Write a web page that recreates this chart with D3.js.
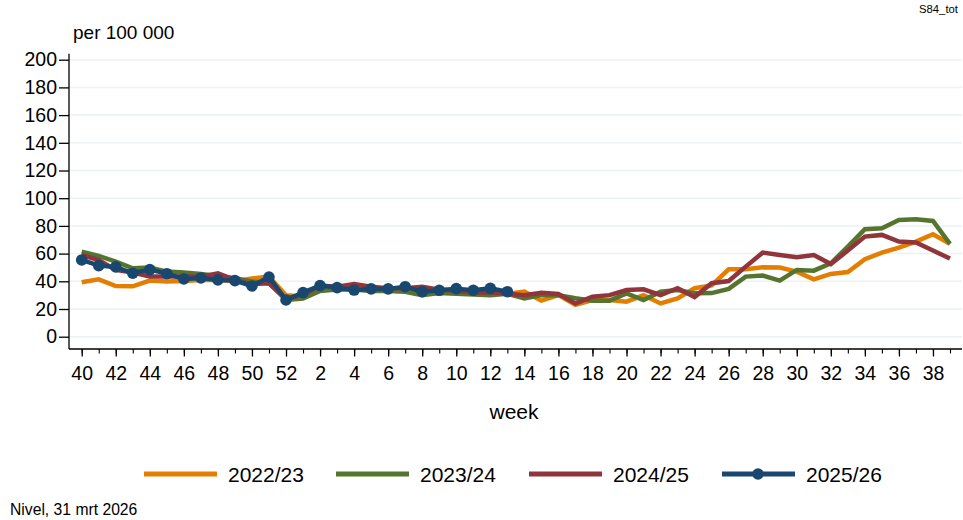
<!DOCTYPE html>
<html>
<head>
<meta charset="utf-8">
<script src="https://d3js.org/d3.v7.min.js"></script>
<style>
  body { margin: 0; background: #fff; }
  text { font-family: "Liberation Sans", Arial, sans-serif; fill: #000; }
</style>
</head>
<body>
<script>

// weeks of the season, week 40 up to week 39
const weeks = ["40","41","42","43","44","45","46","47","48","49","50","51","52",
  "1","2","3","4","5","6","7","8","9","10","11","12","13","14","15","16","17","18","19","20",
  "21","22","23","24","25","26","27","28","29","30","31","32","33","34","35","36","37","38","39"];

const yTicks = [0,20,40,60,80,100,120,140,160,180,200];

const s2022 = [39.3,41.4,36.6,36.4,40.5,39.8,40.2,41,41,40,42,43.4,30,
  29,35,34,35,35,34,33,32,33,32,32,31,31,32.5,26,30,23,26.5,26.5,25.3,
  30,24,27.7,35,37,48.7,48.7,50.1,49.9,47,41.4,45.3,46.7,55.9,60.7,64.3,68.7,74,67];

const s2023 = [61.4,58.3,54.2,49.4,49.9,47,46.3,45.3,43.9,42.2,39.8,38.6,26.5,
  27.5,33,34,34,33,33,32.5,30,31.5,31,30.5,30,31,27.7,30,30,27.7,26,26,31.3,
  26.5,32.5,33.7,31.3,31.5,34.5,43.4,44.1,40.5,48.2,47.7,53,65,77.6,78.3,84.3,84.8,83.6,67];

const s2024 = [59,55.4,48.2,46.3,43.4,43.4,43.4,43.4,45.8,41,38,38.6,27.7,
  30,37,36,38,36,35,35,36,34,33,32,32,31,30,31.8,30.8,24,28.9,30,33.7,
  34.2,30,35,28.6,38.6,40.2,50.6,60.7,59,57.3,59,52.5,62.2,72.3,73.5,68.7,68,62.2,56.4];

const s2025 = [55.4,51.3,50.4,45.8,48.4,45.5,41.7,42.4,41,40.5,36.6,43.1,26.5,
  31.8,36.9,35.4,33.7,34.5,34.5,36.1,32.5,33.5,34.7,33.5,34.9,32.5];

const seasons = ["2022/23","2023/24","2024/25","2025/26"];
const colors = ["#e37e00","#55752f","#90353b","#1a476f"];

const width = 963, height = 520;

const svg = d3.select("body").append("svg")
  .attr("width", width).attr("height", height);

const x = d3.scalePoint().domain(weeks).range([81.7, 950]);
const y = d3.scaleLinear().domain([0, 200]).range([336.7, 59.7]);

const plotLeft = 69, plotRight = 962, plotBottom = 349;

// gridlines
svg.append("g").selectAll("line").data(yTicks).enter().append("line")
  .attr("x1", plotLeft).attr("x2", plotRight)
  .attr("y1", d => y(d)).attr("y2", d => y(d))
  .attr("stroke", "#eaf2f3").attr("stroke-width", 1.5);

// y axis
const yAxis = svg.append("g")
  .attr("transform", "translate(" + plotLeft + ",0)")
  .call(d3.axisLeft(y).tickValues(yTicks).tickSize(10).tickPadding(2));
yAxis.select(".domain").attr("d", "M0," + (y(200) - 6) + "V" + plotBottom).attr("stroke", "#000").attr("stroke-width", 1.3);
yAxis.selectAll(".tick line").attr("stroke", "#000").attr("stroke-width", 1.3);
yAxis.selectAll(".tick text").style("font-size", "19.5px").style("font-family", "Liberation Sans, Arial, sans-serif");

// x axis: minor ticks every week, labels every second week
const xMinor = svg.append("g")
  .attr("transform", "translate(0," + plotBottom + ")")
  .call(d3.axisBottom(x).tickSize(4.5).tickFormat(""));
xMinor.select(".domain").attr("d", "M" + plotLeft + ",0H" + plotRight).attr("stroke", "#000").attr("stroke-width", 1.3);
xMinor.selectAll(".tick line").attr("stroke", "#000").attr("stroke-width", 1.1);

const xMajor = svg.append("g")
  .attr("transform", "translate(0," + plotBottom + ")")
  .call(d3.axisBottom(x).tickValues(weeks.filter((d, i) => i % 2 == 0 && i < 51)).tickSize(7.5).tickPadding(10));
xMajor.select(".domain").remove();
xMajor.selectAll(".tick line").attr("stroke", "#000").attr("stroke-width", 1.3);
xMajor.selectAll(".tick text").style("font-size", "19.5px").style("font-family", "Liberation Sans, Arial, sans-serif");

// lines
const line = d3.line()
  .x((d, i) => x(weeks[i]))
  .y(d => y(d));

const allSeries = [s2022, s2023, s2024, s2025];
allSeries.forEach(function(s, k) {
  svg.append("path")
    .datum(s)
    .attr("d", line)
    .attr("fill", "none")
    .attr("stroke", colors[k])
    .attr("stroke-width", 4.5)
    .attr("stroke-linejoin", "miter");
});

svg.append("g").selectAll("circle").data(s2025).enter().append("circle")
  .attr("cx", (d, i) => x(weeks[i]))
  .attr("cy", d => y(d))
  .attr("r", 5.8)
  .attr("fill", colors[3]);

// titles
svg.append("text").attr("x", 73).attr("y", 39).style("font-size", "19px").text("per 100 000");
svg.append("text").attr("x", 514).attr("y", 419).attr("text-anchor", "middle").style("font-size", "21px").text("week");
svg.append("text").attr("x", 919).attr("y", 13).style("font-size", "11.3px").text("S84_tot");
svg.append("text").attr("x", 10).attr("y", 515).style("font-size", "15.7px").text("Nivel, 31 mrt 2026");

// legend
const legX = [144, 336, 529, 722];
const leg = svg.append("g").selectAll("g").data(seasons).enter().append("g")
  .attr("transform", (d, i) => "translate(" + legX[i] + ",474)");
leg.append("line").attr("x1", 0).attr("x2", 73).attr("y1", 0).attr("y2", 0)
  .attr("stroke", (d, i) => colors[i]).attr("stroke-width", 5);
leg.filter((d, i) => i == 3).append("circle").attr("cx", 36).attr("cy", 0).attr("r", 5.8).attr("fill", colors[3]);
leg.append("text").attr("x", 84).attr("y", 8).style("font-size", "21px").text(d => d);

</script>
</body>
</html>
